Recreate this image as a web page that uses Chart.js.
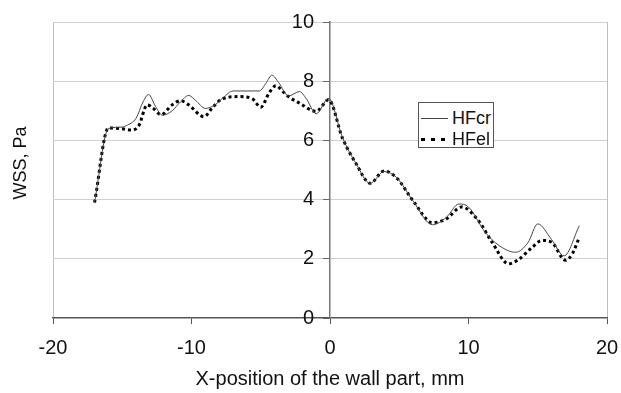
<!DOCTYPE html>
<html>
<head>
<meta charset="utf-8">
<script src="https://cdn.jsdelivr.net/npm/chart.js@4/dist/chart.umd.min.js"></script>
<style>
  html, body { margin: 0; padding: 0; background: #fff; }
  #wrap { position: relative; width: 621px; height: 393px; }
  #legend {
    position: absolute; left: 418px; top: 102px; width: 74px; height: 44px;
    border: 1px solid #555; background: #fff;
    font-family: "Liberation Sans", Arial, sans-serif; font-size: 18px; color: #111;
  }
  #legend .row { position: absolute; left: 0; height: 22px; line-height: 22px; }
  #legend .sample { position: absolute; left: 2px; width: 27px; }
  #legend .label { position: absolute; left: 33px; }
</style>
</head>
<body>
<div id="wrap">
  <canvas id="chart" width="621" height="393"></canvas>
  <div id="legend"></div>
</div>
<script>
// Series names and axis texts
var seriesNames = ['HFcr', 'HFel'];
var xTitle = 'X-position of the wall part, mm';
var yTitle = 'WSS, Pa';
var xTicks = [-20, -10, 0, 10, 20];
var yTicks = [0, 2, 4, 6, 8, 10];

// HFcr (thin solid line)
var crX = [-17, -16, -15, -14.7, -14, -13.5, -13.1, -12.6, -12.1, -11.4, -10.8, -10.2, -9.7, -9.0, -8.3, -7.7, -7.0, -6.0, -5.1, -4.6, -4.2, -3.7, -3.0, -2.2, -1.7, -1.0, -0.1, 0.9, 1.9, 2.9, 3.9, 4.8, 6.0, 7.4, 8.4, 9.3, 10.0, 11.2, 12.2, 13.4, 14.3, 15.0, 16.0, 16.9, 18.0];
var crY = [3.9, 6.4, 6.45, 6.5, 6.75, 7.3, 7.55, 7.15, 6.85, 7.0, 7.3, 7.52, 7.35, 7.08, 7.2, 7.45, 7.67, 7.67, 7.67, 7.95, 8.2, 7.95, 7.5, 7.65, 7.4, 6.9, 7.42, 6.1, 5.2, 4.55, 4.95, 4.75, 3.95, 3.15, 3.4, 3.85, 3.75, 2.9, 2.45, 2.22, 2.55, 3.18, 2.65, 2.1, 3.12];

// HFel (thick dashed line)
var elX = [-17, -16, -15, -14.3, -13.8, -13.2, -12.8, -12.2, -11.4, -10.8, -10.2, -9.1, -8.5, -7.8, -6.6, -5.6, -5.0, -4.4, -3.9, -3.4, -3.0, -2.2, -1.0, -0.1, 0.9, 1.9, 2.9, 3.9, 4.8, 6.0, 7.4, 8.4, 9.5, 10.7, 11.7, 12.9, 13.6, 14.6, 15.3, 16.0, 17.0, 17.5, 18.0];
var elY = [3.9, 6.42, 6.39, 6.35, 6.5, 7.2, 7.1, 6.87, 7.2, 7.34, 7.2, 6.8, 7.1, 7.4, 7.48, 7.4, 7.12, 7.6, 7.85, 7.65, 7.48, 7.26, 6.98, 7.37, 6.08, 5.2, 4.55, 4.97, 4.74, 3.96, 3.22, 3.35, 3.75, 3.3, 2.56, 1.83, 1.97, 2.39, 2.62, 2.56, 1.95, 2.17, 2.73];

function toPoints(xs, ys) {
  return xs.map(function (x, i) { return { x: x, y: ys[i] }; });
}

var font = '"Liberation Sans", Arial, sans-serif';

var datasets = [
  {
    label: seriesNames[0],
    data: toPoints(crX, crY),
    borderColor: '#444',
    borderWidth: 1,
    pointRadius: 0,
    cubicInterpolationMode: 'monotone',
  },
  {
    label: seriesNames[1],
    data: toPoints(elX, elY),
    borderColor: '#000',
    borderWidth: 3,
    borderDash: [3, 3],
    pointRadius: 0,
    cubicInterpolationMode: 'monotone',
  },
];

// Rotated y title, placed left of the plot area.
var yTitlePlugin = {
  id: 'yTitle',
  afterDraw: function (chart) {
    var ctx = chart.ctx;
    ctx.save();
    ctx.translate(21, 163);
    ctx.rotate(-Math.PI / 2);
    ctx.font = '18px ' + font;
    ctx.fillStyle = '#111';
    ctx.textAlign = 'center';
    ctx.textBaseline = 'middle';
    ctx.fillText(yTitle, 0, 0);
    ctx.restore();
  },
};

var chart = new Chart(document.getElementById('chart'), {
  type: 'line',
  data: { datasets: datasets },
  plugins: [yTitlePlugin],
  options: {
    responsive: false,
    animation: false,
    layout: { padding: { left: 53, top: 20, right: 14, bottom: 0 } },
    plugins: { legend: { display: false }, tooltip: { enabled: false } },
    scales: {
      x: {
        type: 'linear',
        min: -20,
        max: 20,
        afterBuildTicks: function (scale) {
          scale.ticks = xTicks.map(function (v) { return { value: v }; });
        },
        afterFit: function (scale) {
          scale.height = 75;
          scale.paddingLeft = 0;
          scale.paddingRight = 0;
        },
        grid: {
          color: function (c) {
            return (c.tick && (c.tick.value === -20 || c.tick.value === 20)) ? '#bdbdbd' : 'rgba(0,0,0,0)';
          },
          tickColor: '#555',
          tickLength: 6,
        },
        border: { color: '#555', width: 1.5 },
        ticks: { color: '#111', font: { family: font, size: 20 }, padding: 12, maxRotation: 0 },
        title: {
          display: true,
          text: xTitle,
          color: '#111',
          font: { family: font, size: 20 },
          padding: { top: 0, bottom: 2 },
        },
      },
      y: {
        type: 'linear',
        // x = 0 sits in the middle of the -20..20 range
        position: 'center',
        min: 0,
        max: 10,
        afterBuildTicks: function (scale) {
          scale.ticks = yTicks.map(function (v) { return { value: v }; });
        },
        grid: {
          color: function (c) {
            return (c.tick && c.tick.value === 0) ? 'rgba(0,0,0,0)' : '#d0d0d0';
          },
          tickColor: '#666',
          tickLength: 6,
        },
        border: { color: '#777', width: 1.5 },
        ticks: { color: '#111', font: { family: font, size: 20 }, padding: 10 },
      },
    },
  },
});

// Legend box built from the datasets.
var legend = document.getElementById('legend');
datasets.forEach(function (ds, i) {
  var row = document.createElement('div');
  row.className = 'row';
  row.style.top = (4 + i * 21) + 'px';
  row.style.width = '74px';
  var sample = document.createElement('div');
  sample.className = 'sample';
  sample.style.top = (11 - Math.floor(ds.borderWidth / 2)) + 'px';
  sample.style.height = ds.borderWidth + 'px';
  if (ds.borderDash) {
    sample.style.background = 'repeating-linear-gradient(to right, ' + ds.borderColor + ' 0 4px, transparent 4px 10px)';
  } else {
    sample.style.background = ds.borderColor;
  }
  var label = document.createElement('span');
  label.className = 'label';
  label.textContent = ds.label;
  row.appendChild(sample);
  row.appendChild(label);
  legend.appendChild(row);
});
</script>
</body>
</html>
